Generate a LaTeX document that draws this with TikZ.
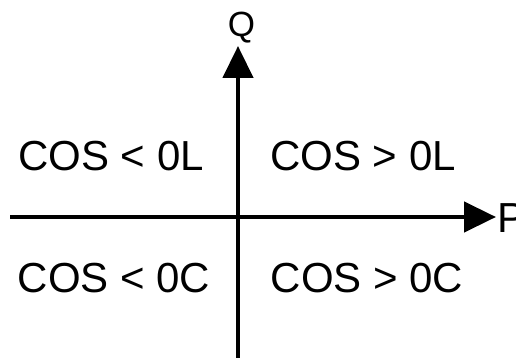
\documentclass[tikz,border=0pt]{standalone}
\usepackage{fontspec}
\setmainfont{Liberation Sans}
\usetikzlibrary{arrows.meta}
\tikzset{
  axis/.style={line width=4.5pt, -{Triangle[length=32pt,width=30pt]}},
  lbl/.style={inner sep=0pt, anchor=base, font=\fontsize{42}{48}\selectfont},
  axlbl/.style={inner sep=0pt, anchor=base, font=\fontsize{35}{40}\selectfont}
}
\begin{document}
\begin{tikzpicture}[x=1pt,y=-1pt]
\useasboundingbox[fill=white] (0,0) rectangle (516,358);
\coordinate (xstart) at (10,217);
\coordinate (xend) at (496,217);
\coordinate (ybot) at (238,358);
\coordinate (ytop) at (238,46);
\draw[axis] (xstart) -- (xend);
\draw[axis] (ybot) -- (ytop);
\node[axlbl] (q) at (241.5,37) {Q};
\node[lbl, anchor=base west] (p) at (497,232) {P};
\node[lbl] (ql) at (111,171) {COS < 0L};
\node[lbl] (qr) at (363,171) {COS > 0L};
\node[lbl] (cl) at (114,292) {COS < 0C};
\node[lbl] (cr) at (367,292) {COS > 0C};
\end{tikzpicture}
\end{document}
